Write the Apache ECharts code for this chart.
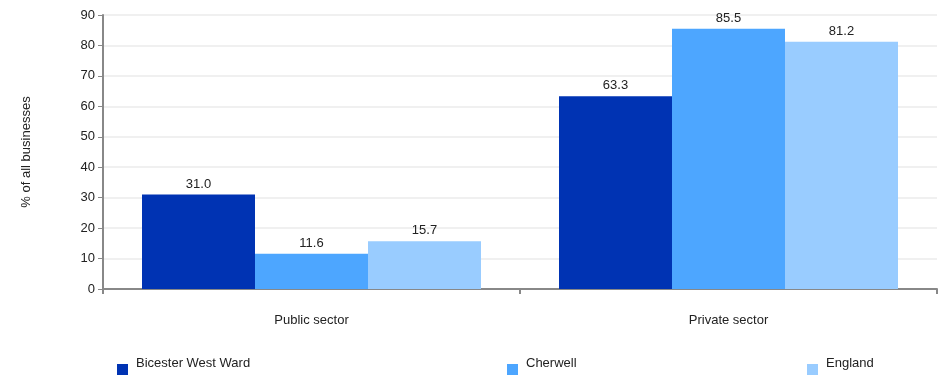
<!DOCTYPE html>
<html>
<head>
<meta charset="utf-8">
<script src="https://cdn.jsdelivr.net/npm/echarts@6/dist/echarts.min.js"></script>
<style>
  html, body { margin: 0; padding: 0; background: #fff; }
  #chart { width: 939px; height: 376px; }
</style>
</head>
<body>
<div id="chart"></div>
<script>
const categories = ['Public sector', 'Private sector']
const seriesNames = ['Bicester West Ward', 'Cherwell', 'England']
const bicesterValues = [31.0, 63.3]
const cherwellValues = [11.6, 85.5]
const englandValues = [15.7, 81.2]
const colors = ['#0033B3', '#4DA6FF', '#99CCFF']

const chart = echarts.init(document.getElementById('chart'))
const font = 'Liberation Sans, Arial, sans-serif'
const legendLefts = [117, 507, 807]
// square drawn in the lower part of the icon box, so it sits below the text line
const legendIcon = 'path://M0,0 M0,13 L11,13 L11,24 L0,24 Z'

function makeSeries(name, data, color) {
  return {
    name: name,
    type: 'bar',
    data: data,
    barWidth: 113,
    barGap: '0%',
    itemStyle: { color: color },
    label: {
      show: true,
      position: 'top',
      distance: 4,
      color: '#222',
      fontSize: 13,
      fontFamily: font,
      formatter: p => p.value.toFixed(1)
    }
  }
}

chart.setOption({
  animation: false,
  textStyle: { fontFamily: font },
  grid: { left: 103, right: 2, top: 15, bottom: 87 },
  legend: seriesNames.map((n, i) => ({
    data: [n],
    left: legendLefts[i],
    top: 351,
    padding: 0,
    itemWidth: 11,
    itemHeight: 24,
    icon: legendIcon,
    textStyle: { color: '#222', fontSize: 13, fontFamily: font, padding: [0, 0, 0, 3] }
  })),
  xAxis: {
    type: 'category',
    data: categories,
    axisLine: { lineStyle: { color: '#888', width: 2 } },
    axisTick: { show: true, length: 5, lineStyle: { color: '#888', width: 2 } },
    axisLabel: { color: '#222', fontSize: 13, margin: 25, fontFamily: font }
  },
  yAxis: {
    type: 'value',
    min: 0,
    max: 90,
    interval: 10,
    name: '% of all businesses',
    nameLocation: 'middle',
    nameGap: 70,
    nameTextStyle: { color: '#222', fontSize: 13, fontFamily: font },
    axisLine: { show: true, lineStyle: { color: '#888', width: 2 } },
    axisTick: { show: true, length: 5, lineStyle: { color: '#888' } },
    axisLabel: { color: '#222', fontSize: 13, margin: 8, fontFamily: font },
    splitLine: { lineStyle: { color: '#f0f0f0', width: 2 } }
  },
  series: [
    makeSeries(seriesNames[0], bicesterValues, colors[0]),
    makeSeries(seriesNames[1], cherwellValues, colors[1]),
    makeSeries(seriesNames[2], englandValues, colors[2])
  ]
})
</script>
</body>
</html>
